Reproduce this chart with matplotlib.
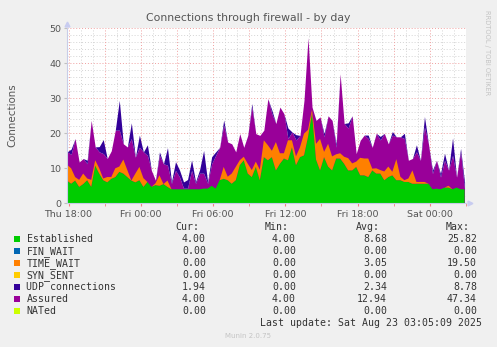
import numpy as np
import pandas as pd
import matplotlib
matplotlib.use('Agg')
import matplotlib.pyplot as plt
from matplotlib.patches import Rectangle

# samples every 20 minutes
times = pd.date_range('2025-08-21 17:53', periods=100, freq='20min')

established = [6.5, 5.6, 6.5, 4.7, 5.5, 6.6, 4.7, 10.8, 8.5, 6.6,
               6.0, 7.0, 7.5, 9.0, 8.5, 7.5, 6.5, 6.0, 6.6, 4.7,
               6.1, 4.7, 5.2, 5.0, 5.5, 4.7, 4.0, 4.0, 4.0, 4.0,
               4.0, 4.0, 4.0, 4.0, 4.2, 4.2, 5.0, 4.2, 6.6, 7.0,
               6.6, 5.6, 6.6, 10.9, 12.3, 8.5, 7.5, 10.4, 6.6, 13.2,
               12.3, 13.2, 9.4, 11.3, 12.8, 12.3, 16.0, 10.9, 13.2, 13.7,
               19.0, 25.8, 12.5, 9.4, 13.2, 10.5, 9.4, 12.8, 12.8, 11.3,
               9.4, 9.4, 10.4, 8.0, 8.0, 7.5, 9.4, 8.5, 8.5, 6.6,
               7.5, 8.0, 6.6, 6.6, 6.1, 6.1, 5.6, 5.6, 5.6, 5.6,
               5.6, 4.0, 4.2, 4.0, 4.5, 4.5, 4.0, 4.5, 4.0, 4.0]
time_wait = [4.5, 4.4, 1.0, 2.0, 3.0, 0.5, 2.0, 1.5, 1.5, 0.5,
             1.5, 0.5, 2.5, 1.5, 4.0, 2.0, 0.0, 2.5, 3.8, 2.5,
             0.0, 0.0, 0.5, 3.0, 0.0, 1.8, 0.0, 0.0, 0.0, 0.0,
             0.0, 0.0, 0.0, 0.0, 0.0, 0.0, 0.0, 0.0, 0.0, 3.4,
             1.0, 2.9, 3.8, 1.4, 1.0, 2.8, 2.0, 1.5, 3.0, 4.8,
             4.3, 1.8, 8.1, 3.0, 1.5, 5.7, 2.0, 2.5, 2.8, 6.2,
             2.0, 1.0, 4.5, 9.0, 1.5, 6.5, 4.0, 1.2, 1.5, 2.0,
             3.5, 2.0, 1.5, 5.0, 4.8, 5.3, 0.5, 1.5, 1.0, 2.5,
             3.0, 1.0, 6.0, 1.0, 0.5, 1.0, 3.8, 0.5, 0.5, 0.5,
             0.0, 0.0, 0.0, 0.0, 0.0, 0.5, 0.0, 0.0, 0.0, 0.0]
udp = [0.0, 1.5, 0.0, 0.0, 0.0, 1.0, 0.0, 0.0, 1.5, 4.0,
       0.0, 0.0, 0.0, 8.5, 0.0, 0.0, 4.5, 0.0, 3.5, 0.0,
       3.0, 0.0, 0.0, 1.0, 0.0, 5.0, 0.5, 2.5, 2.0, 1.8,
       2.5, 3.0, 0.5, 1.0, 6.5, 0.5, 2.0, 1.0, 0.0, 1.5,
       0.0, 0.0, 0.0, 0.0, 0.0, 0.0, 1.0, 0.0, 0.0, 0.0,
       0.0, 1.0, 0.0, 0.0, 0.0, 3.0, 0.0, 1.5, 0.0, 0.0,
       0.0, 0.0, 0.0, 0.0, 1.0, 0.0, 0.0, 1.0, 0.0, 0.0,
       1.5, 0.0, 0.0, 0.0, 0.0, 1.0, 0.0, 0.0, 1.0, 0.0,
       0.0, 1.0, 0.0, 0.0, 1.5, 0.0, 0.0, 2.0, 0.0, 3.0,
       0.0, 1.0, 0.0, 1.0, 2.0, 0.0, 5.0, 0.0, 1.0, 1.94]
assured = [14.7, 14.0, 18.5, 11.8, 12.8, 11.3, 23.7, 16.1, 14.7, 14.2,
           12.8, 15.0, 20.9, 20.9, 17.0, 16.1, 18.5, 13.2, 16.0, 14.7,
           13.7, 9.4, 6.6, 13.7, 11.3, 10.9, 5.7, 9.4, 7.5, 4.3,
           4.3, 9.4, 5.7, 8.6, 8.6, 5.7, 11.3, 13.7, 16.0, 22.3,
           17.5, 17.0, 14.7, 19.9, 16.0, 19.4, 27.5, 19.9, 19.4, 20.9,
           29.9, 25.6, 22.8, 27.5, 25.6, 18.5, 20.4, 18.1, 19.4, 29.4,
           47.3, 27.5, 23.7, 24.7, 19.0, 25.0, 23.7, 16.0, 37.0, 22.8,
           21.5, 25.0, 14.2, 18.0, 19.5, 18.5, 16.0, 20.0, 18.1, 20.0,
           17.0, 19.5, 19.0, 19.0, 18.5, 12.3, 12.8, 14.7, 12.3, 21.8,
           17.0, 8.5, 12.3, 7.5, 12.3, 9.5, 13.7, 7.5, 14.7, 4.0]
fin_wait = np.zeros(len(times))
syn_sent = np.zeros(len(times))

tick_labels = ['Thu 18:00', 'Fri 00:00', 'Fri 06:00', 'Fri 12:00', 'Fri 18:00', 'Sat 00:00']

names = ['Established', 'FIN_WAIT', 'TIME_WAIT', 'SYN_SENT', 'UDP connections', 'Assured', 'NATed']
colors = ['#00CC00', '#0066B3', '#FF8000', '#FFCC00', '#330099', '#990099', '#CCFF00']
cur = [4.00, 0.00, 0.00, 0.00, 1.94, 4.00, 0.00]
mins = [4.00, 0.00, 0.00, 0.00, 0.00, 4.00, 0.00]
avgs = [8.68, 0.00, 3.05, 0.00, 2.34, 12.94, 0.00]
maxs = [25.82, 0.00, 19.50, 0.00, 8.78, 47.34, 0.00]

W, H = 497, 347


def fx(px):
    return px / W


def fy(py):
    return 1 - py / H


fig = plt.figure(figsize=(W / 100, H / 100), dpi=100)
fig.patch.set_facecolor('#F0F0F0')
ax = fig.add_axes([fx(67), fy(203.3), fx(466) - fx(67), fy(28.3) - fy(203.3)])
ax.set_facecolor('white')

hours = np.asarray((times - pd.Timestamp('2025-08-21 18:00')) / pd.Timedelta(hours=1))
est = np.array(established)
tw = np.array(time_wait)
asr = np.array(assured)
stack_top = est + fin_wait + tw + syn_sent

ax.fill_between(hours, 0, asr, color=colors[5], lw=0, zorder=2)
ax.stackplot(hours, est, fin_wait, tw, syn_sent,
             colors=[colors[0], colors[1], colors[2], colors[3]], lw=0, zorder=3)
base = np.maximum(asr, stack_top)
ax.fill_between(hours, base, base + np.array(udp), color=colors[4], lw=0, zorder=4)

xmin, xmax = -0.125, 33.0
ax.set_xlim(xmin, xmax)
ax.set_ylim(0, 50)

# dotted grid: red every 10 / 3 hours, grey in between
for y in range(2, 51, 2):
    c = '#F0A0A0' if y % 10 == 0 else '#D4D4D4'
    ax.axhline(y, color=c, lw=0.7, ls=(0, (1, 2)), zorder=1)
for h in range(0, 34):
    c = '#F0A0A0' if h % 3 == 0 else '#D4D4D4'
    ax.axvline(h, color=c, lw=0.7, ls=(0, (1, 2)), zorder=1)

ax.set_xticks(range(0, 31, 6))
ax.set_xticklabels(tick_labels)
ax.set_xticks(range(3, 34, 6), minor=True)
ax.set_yticks(range(0, 51, 10))
ax.tick_params(axis='x', which='both', length=2.5, color='#F08080', labelsize=6.8,
               labelcolor='#555555', pad=2)
ax.tick_params(axis='y', length=2, color='#C0C0C0', labelsize=6.8,
               labelcolor='#555555', pad=2)
for s in ['top', 'right']:
    ax.spines[s].set_visible(False)
for s in ['left', 'bottom']:
    ax.spines[s].set_color('#C8CCE8')
    ax.spines[s].set_linewidth(0.8)
    ax.spines[s].set_zorder(7)
ax.plot([xmin], [51.2], marker='^', ms=3.5, color='#C8CCF0', clip_on=False, zorder=8)
ax.plot([33.35], [0], marker='>', ms=3.5, color='#C8CCF0', clip_on=False, zorder=8)

fig.text(0.5, fy(18), 'Connections through firewall - by day', ha='center', va='center',
         fontsize=7.8, color='#555555')
fig.text(fx(12), fy(115), 'Connections', rotation=90, ha='center', va='center',
         fontsize=7.4, color='#555555')
fig.text(fx(487), fy(53), 'RRDTOOL / TOBI OETIKER', rotation=270, ha='center', va='center',
         fontsize=4.8, color='#C4C4C4')

mono = dict(family='DejaVu Sans Mono', fontsize=7.1, color='#333333', va='center')
headers = ['Cur:', 'Min:', 'Avg:', 'Max:']
head_right = [199, 289, 380, 470]
val_right = [206, 296, 387, 477]
for hname, xr in zip(headers, head_right):
    fig.text(fx(xr), fy(227.3), hname, ha='right', **mono)
for k, name in enumerate(names):
    yc = 239.3 + 12 * k
    fig.add_artist(Rectangle((fx(14), fy(yc + 3)), fx(6), 6 / H, transform=fig.transFigure,
                             facecolor=colors[k], edgecolor='none'))
    fig.text(fx(26.5), fy(yc), name, ha='left', **mono)
    for vals, xr in zip([cur, mins, avgs, maxs], val_right):
        fig.text(fx(xr), fy(yc), f'{vals[k]:.2f}', ha='right', **mono)

fig.text(fx(482), fy(323.3), 'Last update: Sat Aug 23 03:05:09 2025', ha='right', **mono)
fig.text(fx(248), fy(335.7), 'Munin 2.0.75', ha='center', va='center', fontsize=5,
         color='#C4C4C4')

fig.savefig('out.png', dpi=100, facecolor=fig.get_facecolor())
